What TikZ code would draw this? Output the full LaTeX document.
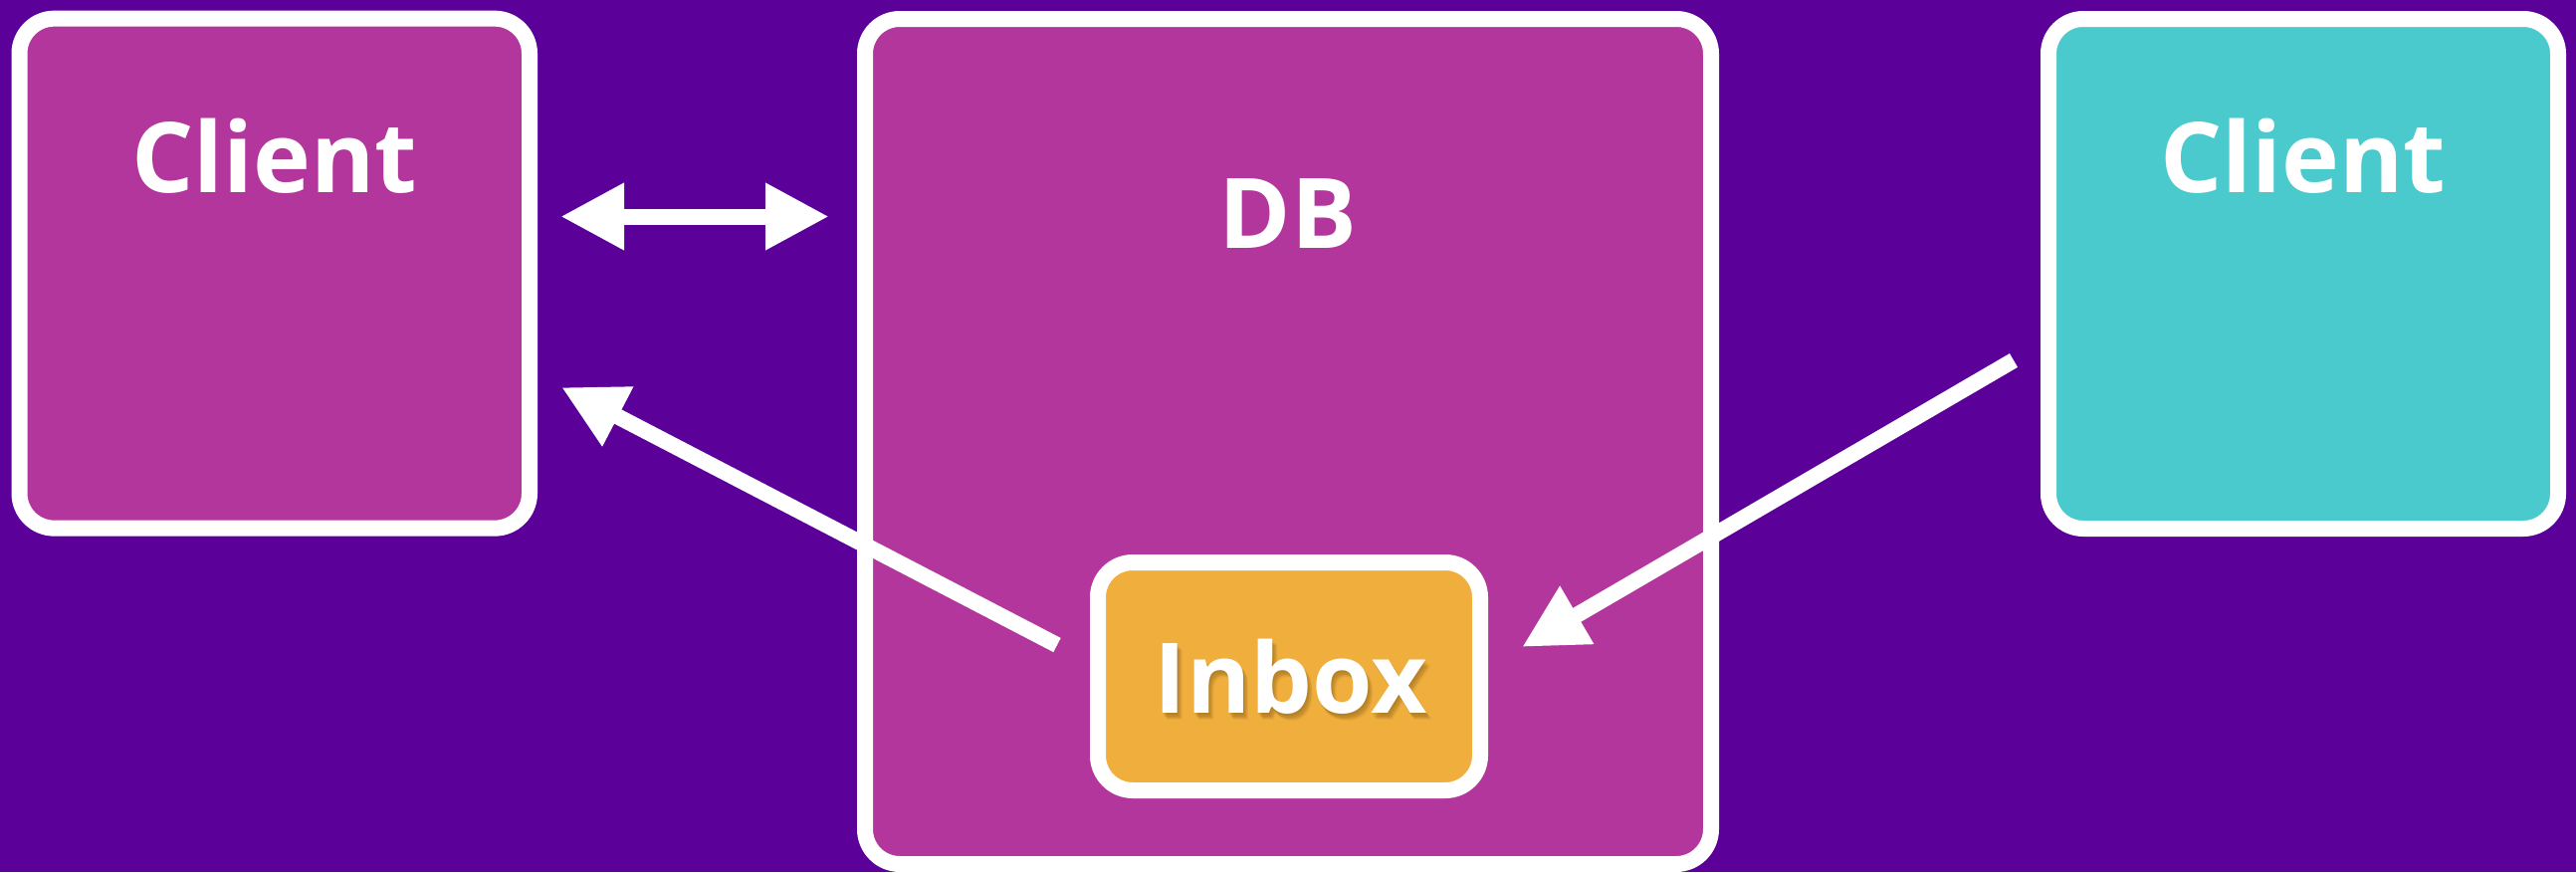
\documentclass[tikz,border=0pt]{standalone}
\usepackage{fontspec}
\setmainfont{Open Sans}
\usetikzlibrary{arrows.meta}
\definecolor{bgpurple}{HTML}{5B0099}
\definecolor{boxpink}{HTML}{B3369D}
\definecolor{boxcyan}{HTML}{4ACACC}
\definecolor{boxorange}{HTML}{F0AE3C}
\definecolor{shadowbrown}{HTML}{6B4A10}
\begin{document}
\begin{tikzpicture}[x=1pt,y=-1pt,
  box/.style={draw=white, line width=16pt, rounded corners=35pt, inner sep=0pt},
  lbl/.style={text=white, font=\fontsize{98}{110}\selectfont\bfseries, anchor=base, inner sep=0pt},
  arr/.style={draw=white, line width=16pt, -{Triangle[length=64pt,width=63pt]}},
  dblarr/.style={draw=white, line width=16pt, {Triangle[length=64pt,width=63pt]}-{Triangle[length=64pt,width=63pt]}},
  shadowtxt/.style={lbl, text=shadowbrown},
]
\fill[bgpurple] (0,0) rectangle (2588,876);
\useasboundingbox (0,0) rectangle (2588,876);

\node[box, fill=boxpink, minimum width=512.5pt, minimum height=512pt] (c1) at (275.75,274.65) {};
\node[box, fill=boxcyan, minimum width=512pt, minimum height=512pt] (c2) at (2314,275) {};
\node[box, fill=boxpink, minimum width=850pt, minimum height=849pt] (db) at (1294,443.5) {};
\node[box, fill=boxorange, minimum width=384pt, minimum height=229pt] (inbox) at (1295,679.5) {};

\node[lbl] (c1t) at (276,193) {Client};
\node[lbl] (c2t) at (2314,193) {Client};
\node[lbl] (dbt) at (1294,249) {DB};
\foreach \dx/\dy/\o in {1/2/0.12, 2/4/0.12, 4/5/0.12, 5/7/0.08, 3/6/0.08}
  \node[shadowtxt, opacity=\o] at (1297+\dx,716+\dy) {Inbox};
\node[lbl] (inboxt) at (1297,716) {Inbox};

\coordinate (dA) at (563,217.5);
\coordinate (dB) at (833,217.5);
\draw[dblarr] (dA) -- (dB);

\coordinate (lt) at (1062,648);
\coordinate (lh) at (564,389);
\draw[arr] (lt) -- (lh);

\coordinate (rt) at (2023,362);
\coordinate (rh) at (1529,650);
\draw[arr] (rt) -- (rh);
\end{tikzpicture}
\end{document}
